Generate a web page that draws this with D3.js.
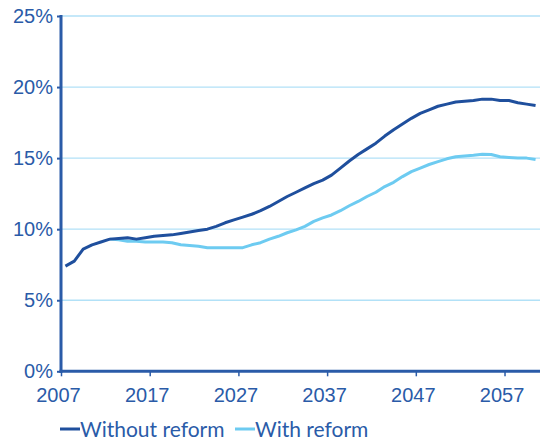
<!DOCTYPE html>
<html>
<head>
<meta charset="utf-8">
<script src="https://cdn.jsdelivr.net/npm/d3@7"></script>
<style>
  html, body { margin: 0; padding: 0; background: #fff; }
  svg { display: block; font-family: Lato, "Open Sans", sans-serif; }
</style>
</head>
<body>
<svg id="chart" width="550" height="441"></svg>
<script>
// Annual series, 2007–2060 (share of GDP, %)
const years = d3.range(2007, 2061);
const withoutReform = [
  7.4, 7.75, 8.6, 8.9, 9.1, 9.3, 9.35, 9.4, 9.3, 9.4,
  9.5, 9.55, 9.6, 9.7, 9.8, 9.9, 10.0, 10.2, 10.45, 10.65,
  10.85, 11.05, 11.3, 11.6, 11.95, 12.3, 12.6, 12.9, 13.2, 13.45,
  13.8, 14.3, 14.8, 15.25, 15.65, 16.05, 16.55, 17.0, 17.4, 17.8,
  18.15, 18.4, 18.65, 18.8, 18.95, 19.0, 19.05, 19.15, 19.15, 19.05,
  19.05, 18.9, 18.8, 18.7
];
const withReform = [
  null, null, null, null, null, 9.3, 9.25, 9.15, 9.15, 9.1,
  9.1, 9.1, 9.05, 8.9, 8.85, 8.8, 8.7, 8.7, 8.7, 8.7,
  8.7, 8.9, 9.05, 9.3, 9.5, 9.75, 9.95, 10.2, 10.55, 10.8,
  11.0, 11.3, 11.65, 11.95, 12.3, 12.6, 13.0, 13.3, 13.7, 14.05,
  14.3, 14.55, 14.75, 14.95, 15.1, 15.15, 15.2, 15.27, 15.25, 15.1,
  15.05, 15.0, 15.0, 14.9
];
const xTicks = [2007, 2017, 2027, 2037, 2047, 2057];
const yTicks = [0, 5, 10, 15, 20, 25];
const seriesNames = ["Without reform", "With reform"];

const textColor = "#2a5ba8";
const axisColor = "#2a5ba8";
const darkColor = "#1f4f9d";
const lightColor = "#6dcbf1";
const gridColor = "#b2e1f7";

const svg = d3.select("#chart");
const plotLeft = 61, plotRight = 540, plotTop = 16, plotBottom = 371.3;

// each year occupies one slot; points sit at the slot centre
const x = d3.scaleLinear().domain([2007, 2061]).range([plotLeft, plotRight]);
const y = d3.scaleLinear().domain([0, 25]).range([plotBottom, plotTop]);

// gridlines
svg.append("g")
  .selectAll("line")
  .data(yTicks.filter(d => d > 0))
  .join("line")
  .attr("x1", plotLeft).attr("x2", plotRight)
  .attr("y1", d => y(d)).attr("y2", d => y(d))
  .attr("stroke", gridColor).attr("stroke-width", 1.3);

// y axis
const yAxis = svg.append("g")
  .attr("transform", `translate(${plotLeft},0)`)
  .call(d3.axisLeft(y).tickValues(yTicks).tickFormat(d => d + "%").tickSize(4).tickPadding(4));
yAxis.select(".domain").remove();
yAxis.selectAll(".tick line").attr("stroke", axisColor).attr("stroke-width", 2);
yAxis.selectAll(".tick text")
  .attr("fill", textColor).attr("font-size", 20).attr("dy", "0.3em");

// x axis
const xAxis = svg.append("g")
  .attr("transform", `translate(0,${plotBottom})`)
  .call(d3.axisBottom(x).tickValues(xTicks).tickFormat(d3.format("d")).tickSize(5).tickPadding(12));
xAxis.select(".domain").remove();
xAxis.selectAll(".tick line").attr("stroke", axisColor).attr("stroke-width", 1.5);
xAxis.selectAll(".tick text")
  .attr("fill", textColor).attr("font-size", 20).attr("dx", "-3");

// axis lines
svg.append("line")
  .attr("x1", plotLeft).attr("x2", plotLeft).attr("y1", plotTop - 1).attr("y2", plotBottom + 1.5)
  .attr("stroke", axisColor).attr("stroke-width", 3);
svg.append("line")
  .attr("x1", plotLeft - 1.5).attr("x2", plotRight).attr("y1", plotBottom).attr("y2", plotBottom)
  .attr("stroke", axisColor).attr("stroke-width", 3);

// series lines
const line = d3.line()
  .defined(d => d.v != null)
  .x(d => x(d.year + 0.5))
  .y(d => y(d.v));

const series = [
  { name: seriesNames[1], values: withReform, color: lightColor },
  { name: seriesNames[0], values: withoutReform, color: darkColor }
];

svg.append("g")
  .selectAll("path")
  .data(series)
  .join("path")
  .attr("d", s => line(years.map((yr, i) => ({ year: yr, v: s.values[i] }))))
  .attr("fill", "none")
  .attr("stroke", s => s.color)
  .attr("stroke-width", 3)
  .attr("stroke-linejoin", "round");

// legend
const legendItems = [
  { name: seriesNames[0], color: darkColor, x0: 60 },
  { name: seriesNames[1], color: lightColor, x0: 235 }
];
const legend = svg.append("g").attr("transform", "translate(0,429)");
const li = legend.selectAll("g").data(legendItems).join("g")
  .attr("transform", d => `translate(${d.x0},0)`);
li.append("line")
  .attr("x1", 0).attr("x2", 20).attr("y1", 0).attr("y2", 0)
  .attr("stroke", d => d.color).attr("stroke-width", 3);
li.append("text")
  .attr("x", 20).attr("y", 0).attr("dy", "0.36em")
  .attr("fill", textColor).attr("font-size", 21)
  .text(d => d.name);
</script>
</body>
</html>
